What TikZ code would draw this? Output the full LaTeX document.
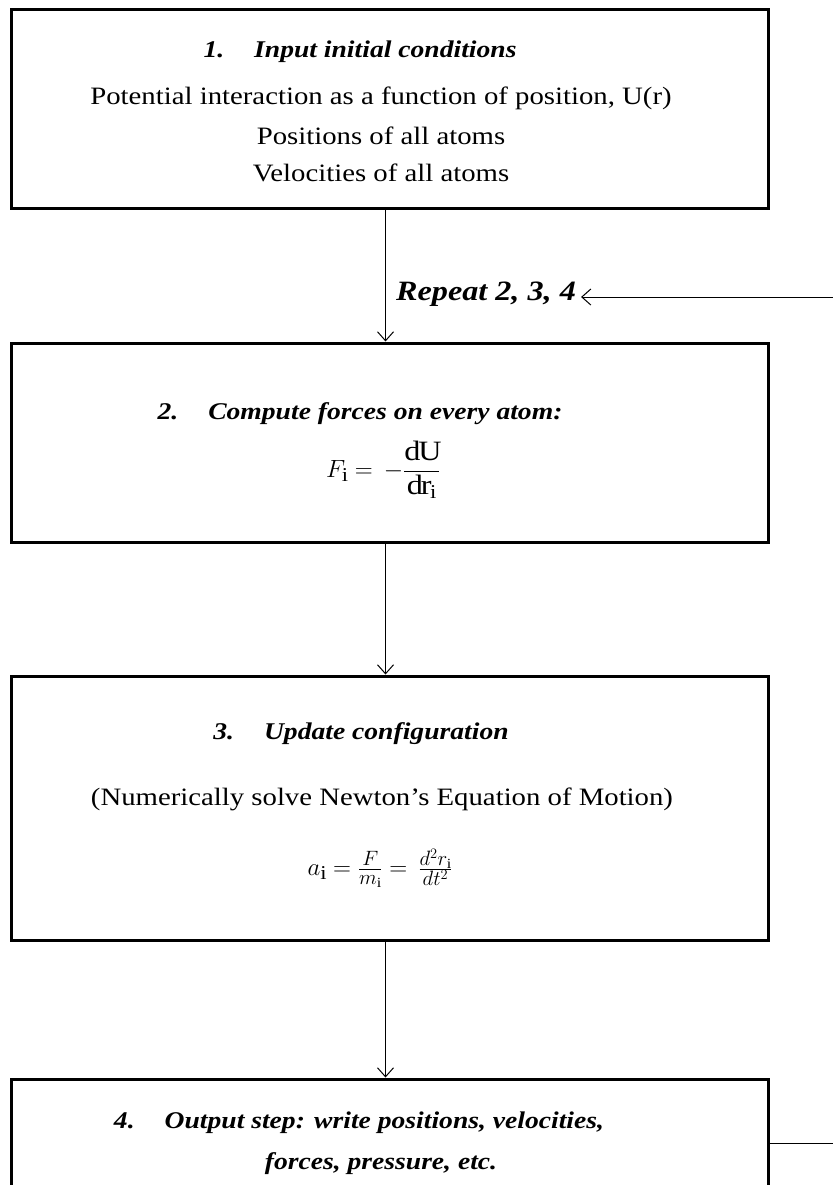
\documentclass[tikz,border=0pt]{standalone}
\usepackage{fontspec}
\setmainfont{Liberation Serif}[FakeStretch=1.15]
\usetikzlibrary{arrows.meta}
\begin{document}
\begin{tikzpicture}[x=1pt,y=-1pt,
  box/.style={draw, line width=3pt, minimum width=757pt, inner sep=0pt},
  ttl/.style={font=\fontsize{24}{38}\selectfont\bfseries\itshape, inner sep=0pt, align=center},
  txt/.style={font=\fontsize{25}{38}\selectfont, inner sep=0pt, align=center},
  eqn/.style={font=\fontsize{28}{38}\selectfont, inner sep=0pt},
  flow/.style={line width=1pt, -{Straight Barb[length=9pt,width=16pt]}}]
\useasboundingbox (0,0) rectangle (832,1185);
\fill[white] (0,0) rectangle (832,1185);
% boxes
\node[box, minimum height=198pt] (b1) at (389.5,109) {};
\node[box, minimum height=199pt] (b2) at (389.5,442.5) {};
\node[box, minimum height=264pt] (b3) at (389.5,808) {};
\node[box, minimum height=128pt] (b4) at (389.5,1143) {};
% box 1 text
\node[ttl] (t1) at (360,52) {1.\hspace{30pt}Input initial conditions};
\node[txt] (l1a) at (381,98) {Potential interaction as a function of position, U(r)};
\node[txt] (l1b) at (381,136) {Positions of all atoms};
\node[txt] (l1c) at (381,173) {Velocities of all atoms};
% box 2 text
\node[ttl] (t2) at (360,414) {2.\hspace{30pt}Compute forces on every atom:};
\node[eqn] (e2) at (383,470) {$\displaystyle F_{\mathrm{i}} = \,-\frac{\mathrm{dU}}{\mathrm{dr}_{\mathrm{i}}}$};
% box 3 text
\node[ttl] (t3) at (361,734) {3.\hspace{30pt}Update configuration};
\node[txt] (l3) at (382,799) {(Numerically solve Newton's Equation of Motion)};
\node[eqn] (e3) at (380,868) {$a_{\mathrm{i}} = \frac{F}{m_{\mathrm{i}}} = \,\frac{d^2 r_{\mathrm{i}}}{d t^2}$};
% box 4 text
\node[ttl] (t4a) at (359,1123) {4.\hspace{30pt}Output step: write positions, velocities,};
\node[ttl] (t4b) at (381,1164) {forces, pressure,\ etc.};
% repeat label
\node[ttl, font=\fontsize{28}{34}\selectfont\bfseries\itshape] (rep) at (486,294) {Repeat 2, 3, 4};
\coordinate (rc) at (838,297);
% connectors
\draw[flow] ([xshift=-4pt]b1.south) -- ([xshift=-4pt]b2.north);
\draw[flow] ([xshift=-4pt]b2.south) -- ([xshift=-4pt]b3.north);
\draw[flow] ([xshift=-4pt]b3.south) -- ([xshift=-4pt]b4.north);
\draw[line width=1pt] (b4.east) -- (b4.east -| rc) -- (rc);
\draw[flow, shorten >=5pt] (rc) -- (rc -| rep.east);
\end{tikzpicture}
\end{document}
